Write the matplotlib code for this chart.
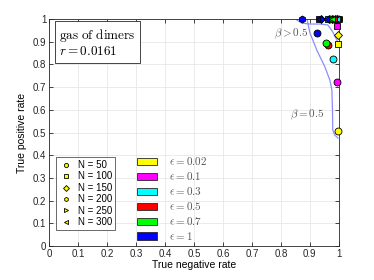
import matplotlib
matplotlib.use("Agg")
import matplotlib.pyplot as plt
from matplotlib.lines import Line2D
from matplotlib.patches import Rectangle

plt.rcParams["font.family"] = ["Liberation Sans", "DejaVu Sans"]
plt.rcParams["mathtext.fontset"] = "cm"

# data
eps_labels = ["0.02", "0.1", "0.3", "0.5", "0.7", "1"]
eps_colors = ["#ffff00", "#ff00ff", "#00ffff", "#ff0000", "#00ff00", "#0000ff"]
n_labels = ["N = 50", "N = 100", "N = 150", "N = 200", "N = 250", "N = 300"]
n_markers = ["o", "s", "D", "h", ">", "<"]

# TNR (x) and TPR (y) per epsilon, one value per N
tnr = [
    [0.997, 0.997, 0.997, 0.999, 0.999, 1.0],
    [0.993, 0.993, 0.995, 0.996, 0.997, 0.998],
    [0.979, 0.984, 0.987, 0.989, 0.991, 0.993],
    [0.962, 0.972, 0.976, 0.979, 0.982, 0.985],
    [0.955, 0.962, 0.966, 0.970, 0.974, 0.978],
    [0.924, 0.930, 0.938, 0.872, 0.946, 0.955],
]
tpr = [
    [0.507, 0.890, 0.930, 1.0, 1.0, 1.0],
    [0.722, 0.970, 1.0, 1.0, 1.0, 1.0],
    [0.824, 1.0, 1.0, 1.0, 1.0, 1.0],
    [0.885, 1.0, 1.0, 1.0, 1.0, 1.0],
    [0.894, 1.0, 1.0, 1.0, 1.0, 1.0],
    [0.938, 1.0, 1.0, 1.0, 1.0, 1.0],
]

# boundary curves
curve_hi_x = [0.855, 0.872, 0.90, 0.934, 0.962, 0.979, 0.990, 0.996, 1.0]
curve_hi_y = [0.996, 0.982, 0.978, 0.978, 0.974, 0.943, 0.915, 0.90, 0.89]
curve_05_x = [0.890, 0.900, 0.924, 0.952, 0.969, 0.976, 0.978, 0.979, 0.986, 0.997]
curve_05_y = [1.0, 0.940, 0.863, 0.789, 0.731, 0.687, 0.600, 0.511, 0.489, 0.476]

fig = plt.figure(figsize=(3.74, 2.8), dpi=100)
ax = fig.add_axes([0.131, 0.121, 0.775, 0.811])

ax.plot(curve_hi_x, curve_hi_y, color="#8c8cff", lw=0.9, zorder=2)
ax.plot(curve_05_x, curve_05_y, color="#8c8cff", lw=0.9, zorder=2)

for i in range(len(eps_labels)):
    for j in range(len(n_labels)):
        ax.plot(tnr[i][j], tpr[i][j], marker=n_markers[j], ms=5 if j != 2 else 4.5,
                mfc=eps_colors[i], mec="black", mew=0.6, ls="none", zorder=3,
                clip_on=False)

ax.set_xlim(0, 1)
ax.set_ylim(0, 1)
ticks = [k / 10 for k in range(11)]
tick_lbl = ["0"] + ["%.1f" % t for t in ticks[1:-1]] + ["1"]
ax.set_xticks(ticks)
ax.set_yticks(ticks)
ax.set_xticklabels(tick_lbl)
ax.set_yticklabels(tick_lbl)
ax.tick_params(direction="in", length=3, width=0.6, labelsize=7,
               top=True, right=True, colors="#262626", pad=2)
ax.grid(True, color="#e8e8e8", lw=0.6)
ax.set_axisbelow(True)
for s in ax.spines.values():
    s.set_color("#262626")
    s.set_linewidth(0.6)

ax.set_xlabel("True negative rate", fontsize=7.5, labelpad=1)
ax.set_ylabel("True positive rate", fontsize=7.5, labelpad=4)

ax.text(0.895, 0.934, r"$\beta > 0.5$", fontsize=8, color="#555555",
        ha="right", va="center")
ax.text(0.952, 0.577, r"$\beta = 0.5$", fontsize=8, color="#555555",
        ha="right", va="center")

ax.text(0.035, 0.895, "$\\mathrm{gas\\ of\\ dimers}$\n$r = 0.0161$", fontsize=9.5,
        ha="left", va="center", linespacing=1.1,
        bbox=dict(boxstyle="square,pad=0.35", fc="white", ec="#262626", lw=0.6))

# N legend
handles = [Line2D([], [], marker=m, ls="none", mfc="#ffff00", mec="black",
                  mew=0.6, ms=3) for m in n_markers]
leg = ax.legend(handles, n_labels, loc="upper left", bbox_to_anchor=(0.024, 0.392),
                fontsize=7, handlelength=1.4, handletextpad=0.6, labelspacing=0.15,
                borderpad=0.3, frameon=True, fancybox=False, borderaxespad=0)
leg.get_frame().set_edgecolor("#262626")
leg.get_frame().set_linewidth(0.6)

# epsilon legend
ys = [0.374, 0.308, 0.242, 0.176, 0.110, 0.044]
for i in range(len(eps_labels)):
    ax.add_patch(Rectangle((0.303, ys[i] - 0.016), 0.069, 0.032,
                           transform=ax.transAxes, fc=eps_colors[i],
                           ec="#262626", lw=0.6, zorder=4))
    ax.text(0.414, ys[i], r"$\epsilon = %s$" % eps_labels[i], transform=ax.transAxes,
            fontsize=8, color="#555555", ha="left", va="center")

fig.savefig("out.png", dpi=100)
